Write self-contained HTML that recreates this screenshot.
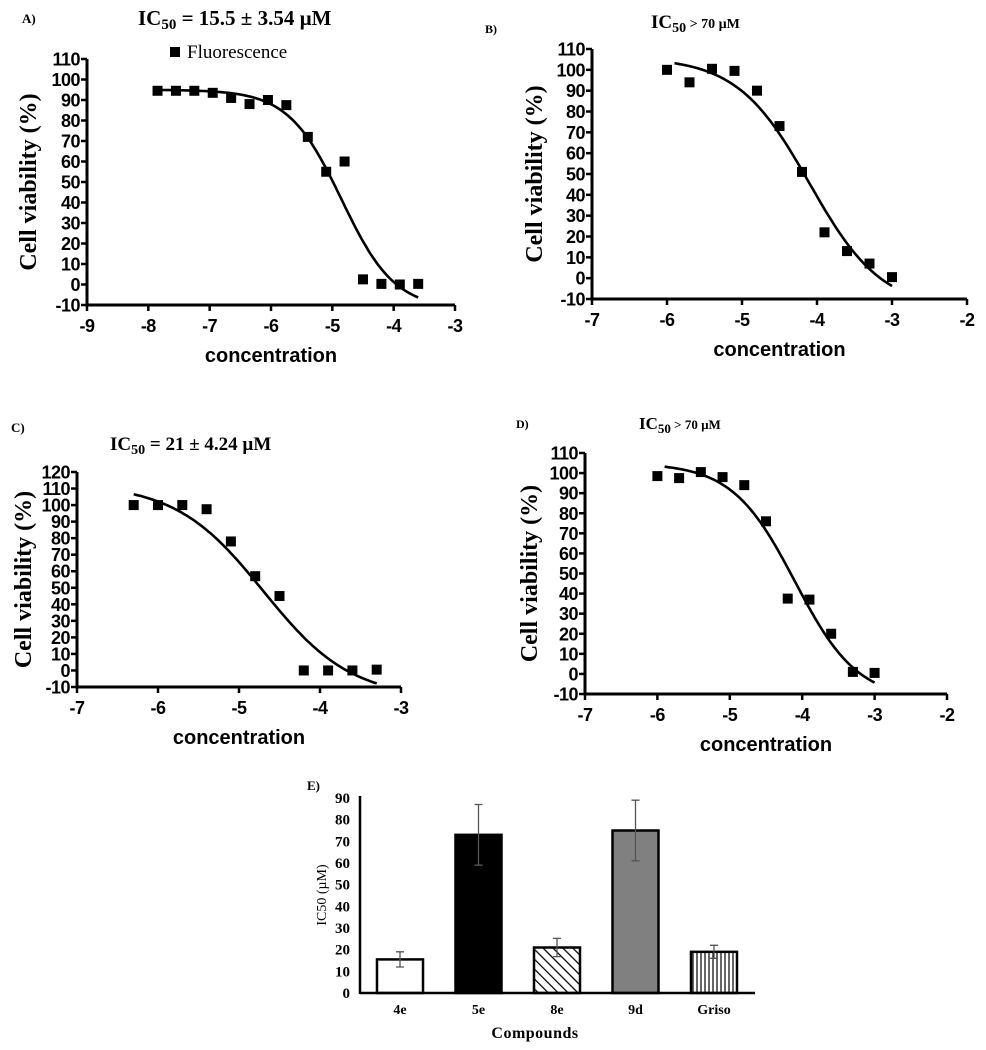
<!DOCTYPE html>
<html><head><meta charset="utf-8"><style>
body{margin:0;background:#fff;}
svg{display:block;}
.tk{font-family:"Liberation Sans",sans-serif;font-weight:bold;font-size:18px;fill:#000;letter-spacing:-0.5px;}
.xt{font-family:"Liberation Sans",sans-serif;font-weight:bold;font-size:20px;fill:#000;}
.yt{font-family:"Liberation Serif",serif;font-weight:bold;font-size:24px;fill:#000;}
.ser{font-family:"Liberation Serif",serif;fill:#000;}
</style></head><body>
<svg id="svg" width="986" height="1050" viewBox="0 0 986 1050" xmlns="http://www.w3.org/2000/svg">
<defs>
<pattern id="diag" width="7" height="7" patternUnits="userSpaceOnUse" patternTransform="rotate(-45)"><rect width="7" height="7" fill="#fff"/><line x1="0" y1="0" x2="0" y2="7" stroke="#000" stroke-width="2.5"/></pattern>
<pattern id="vert" width="4" height="4" patternUnits="userSpaceOnUse"><rect width="4" height="4" fill="#fff"/><line x1="1" y1="0" x2="1" y2="4" stroke="#000" stroke-width="1.2"/></pattern>
</defs>
<text class="ser" x="22" y="23" font-size="13" font-weight="bold">A)</text>
<text class="ser" x="138" y="25" font-size="21" font-weight="bold">IC<tspan font-size="15" dy="4">50</tspan><tspan dy="-4"> = 15.5 ± 3.54 µM</tspan></text>
<rect x="170" y="47" width="10" height="10" fill="#000"/>
<text class="ser" x="187" y="58" font-size="19">Fluorescence</text>
<text class="ser" x="485" y="33" font-size="12" font-weight="bold">B)</text>
<text class="ser" x="651" y="28" font-size="19" font-weight="bold">IC<tspan font-size="14" dy="4">50</tspan><tspan font-size="14" dy="-4">  &gt; 70 µM</tspan></text>
<text class="ser" x="11" y="432" font-size="13" font-weight="bold">C)</text>
<text class="ser" x="110" y="450" font-size="19" font-weight="bold">IC<tspan font-size="14" dy="4">50</tspan><tspan dy="-4"> = 21 ± 4.24 µM</tspan></text>
<text class="ser" x="516" y="428" font-size="12" font-weight="bold">D)</text>
<text class="ser" x="639" y="429" font-size="17" font-weight="bold">IC<tspan font-size="13" dy="4">50</tspan><tspan font-size="13" dy="-4">  &gt; 70 µM</tspan></text>
<text class="ser" x="307" y="790" font-size="13" font-weight="bold">E)</text>
</svg>
<script>
// Panel A data
const aX = [-7.85,-7.55,-7.25,-6.95,-6.65,-6.35,-6.05,-5.75,-5.4,-5.1,-4.8,-4.5,-4.2,-3.9,-3.6];
const aY = [94.5,94.5,94.5,93.5,91,88,90,87.5,72,55,60,2.5,0.3,0,0.3];
const aFit = [95,-12,-4.85,1.0]; // top,bottom,logIC50,hill
// Panel B data
const bX = [-6,-5.7,-5.4,-5.1,-4.8,-4.5,-4.2,-3.9,-3.6,-3.3,-3.0];
const bY = [100,94,100.5,99.5,90,73,51,22,13,7,0.5];
const bFit = [106,-15,-4.1,0.9];
// Panel C data
const cX = [-6.3,-6,-5.7,-5.4,-5.1,-4.8,-4.5,-4.2,-3.9,-3.6,-3.3];
const cY = [100,100,100,97.5,78,57,45,0,0,0,0.5];
const cFit = [113,-17,-4.7,0.8];
// Panel D data
const dX = [-6,-5.7,-5.4,-5.1,-4.8,-4.5,-4.2,-3.9,-3.6,-3.3,-3.0];
const dY = [98.5,97.5,100.5,98,94,76,37.5,37,20,1,0.5];
const dFit = [105,-13,-4.1,1.0];
// Panel E data
const eCats = ['4e','5e','8e','9d','Griso'];
const eVals = [15.5,73,21,75,19];
const eErr = [3.5,14,4.2,14,3];
const eTicks = [0,10,20,30,40,50,60,70,80,90];

const svg = document.getElementById('svg');
const NS='http://www.w3.org/2000/svg';
function mk(tag, attrs, parent){const e=document.createElementNS(NS,tag);for(const k in attrs)e.setAttribute(k,attrs[k]);(parent||svg).appendChild(e);return e;}

function panel(id, X, Y, fit, cfg){
  const g=mk('g',{});
  
  
  const sx=v=>cfg.x0+(v-cfg.xmin)/(cfg.xmax-cfg.xmin)*(cfg.x1-cfg.x0);
  const sy=v=>cfg.yb+(v-cfg.ymin)/(cfg.ymax-cfg.ymin)*(cfg.yt-cfg.yb);
  const ya=mk('line',{x1:cfg.x0,y1:cfg.yt,x2:cfg.x0,y2:cfg.yb+1.5,stroke:'#000','stroke-width':3},g);
  
  
  const xa=mk('line',{x1:cfg.x0-1.5,y1:cfg.yb,x2:cfg.x1,y2:cfg.yb,stroke:'#000','stroke-width':3},g);
  
  
  for(let v=cfg.ymin; v<=cfg.ymax; v+=10){
    mk('line',{x1:cfg.x0-6,y1:sy(v),x2:cfg.x0,y2:sy(v),stroke:'#000','stroke-width':2.5},g);
    const t=mk('text',{x:cfg.x0-7,y:sy(v)+6.5,'text-anchor':'end',class:'tk'},g);
    t.textContent=v;
    
    
  }
  for(let v=cfg.xmin; v<=cfg.xmax; v++){
    mk('line',{x1:sx(v),y1:cfg.yb,x2:sx(v),y2:cfg.yb+6,stroke:'#000','stroke-width':2.5},g);
    const t=mk('text',{x:sx(v),y:cfg.yb+27,'text-anchor':'middle',class:'tk'},g);
    t.textContent=v;
    
    
  }
  const xt=mk('text',{x:(cfg.x0+cfg.x1)/2,y:cfg.yb+57,'text-anchor':'middle',class:'xt'},g);
  xt.textContent='concentration';
  
  
  const yc=(cfg.yt+cfg.yb)/2;
  const yt=mk('text',{x:cfg.ytx,y:yc,'text-anchor':'middle',class:'yt',transform:`rotate(-90 ${cfg.ytx} ${yc})`},g);
  yt.textContent='Cell viability (%)';
  
  
  const [top,bot,lec,h]=fit;
  const f=x=>bot+(top-bot)/(1+Math.pow(10,(x-lec)*h));
  const xs=Math.min(...X)+(cfg.cs||0), xe=Math.max(...X);
  let d='';
  for(let i=0;i<=120;i++){const x=xs+(xe-xs)*i/120;d+=(i?'L':'M')+sx(x).toFixed(1)+' '+sy(f(x)).toFixed(1);}
  const p=mk('path',{d:d,fill:'none',stroke:'#000','stroke-width':2.6},g);
  
  
  X.forEach((x,i)=>{
    const r=mk('rect',{x:sx(x)-5,y:sy(Y[i])-5,width:10,height:10,fill:'#000'},g);
    
    
  });
}
panel('panel-a',aX,aY,aFit,{x0:87,x1:455,xmin:-9,xmax:-3,yt:59,yb:305,ymin:-10,ymax:110,ytx:36});
panel('panel-b',bX,bY,bFit,{x0:592,x1:967,xmin:-7,xmax:-2,yt:49,yb:299,ymin:-10,ymax:110,ytx:542,cs:0.1});
panel('panel-c',cX,cY,cFit,{x0:77,x1:401,xmin:-7,xmax:-3,yt:472,yb:687,ymin:-10,ymax:120,ytx:31});
panel('panel-d',dX,dY,dFit,{x0:585,x1:947,xmin:-7,xmax:-2,yt:453,yb:694,ymin:-10,ymax:110,ytx:537,cs:0.1});

// Panel E bar chart
(function(){
  const g=mk('g',{});
  
  
  const x0=360, xEnd=755, yb=993, yt=798;
  const sy=v=>yb-v/90*(yb-yt);
  const band=78.5, first=400;
  const cx=i=>first+i*band;
  const fills=['#fff','#000','url(#diag)','#808080','url(#vert)'];
  eTicks.forEach(v=>{
    const t=mk('text',{x:x0-10,y:sy(v)+5,'text-anchor':'end',class:'ser','font-size':15,'font-weight':'bold','fill':'#333'},g);
    t.textContent=v;
    
    
  });
  eCats.forEach((c,i)=>{
    const r=mk('rect',{x:cx(i)-23,y:sy(eVals[i]),width:46,height:sy(0)-sy(eVals[i]),fill:fills[i],stroke:'#000','stroke-width':2.5},g);
    
    
    const e=mk('path',{d:`M${cx(i)} ${sy(eVals[i]+eErr[i])}V${sy(eVals[i]-eErr[i])}M${cx(i)-4} ${sy(eVals[i]+eErr[i])}h8M${cx(i)-4} ${sy(eVals[i]-eErr[i])}h8`,stroke:'#555','stroke-width':1.3,fill:'none'},g);
    
    
    const t=mk('text',{x:cx(i),y:1014,'text-anchor':'middle',class:'ser','font-size':14,'font-weight':'bold','fill':'#333'},g);
    t.textContent=c;
    
    
  });
  const ya=mk('line',{x1:x0,y1:yt-2,x2:x0,y2:yb+1,stroke:'#000','stroke-width':2.5},g);
  
  
  const xa=mk('line',{x1:x0,y1:yb,x2:xEnd,y2:yb,stroke:'#000','stroke-width':2.5},g);
  
  
  const xt=mk('text',{x:535,y:1038,'text-anchor':'middle',class:'ser','font-size':16,'font-weight':'bold','fill':'#333','letter-spacing':'0.5'},g);
  xt.textContent='Compounds';
  
  
  const yt2=mk('text',{x:326,y:895,'text-anchor':'middle',class:'ser','font-size':14,transform:'rotate(-90 326 895)'},g);
  yt2.textContent='IC50 (µM)';
  
  
})();
</script>
</body></html>
